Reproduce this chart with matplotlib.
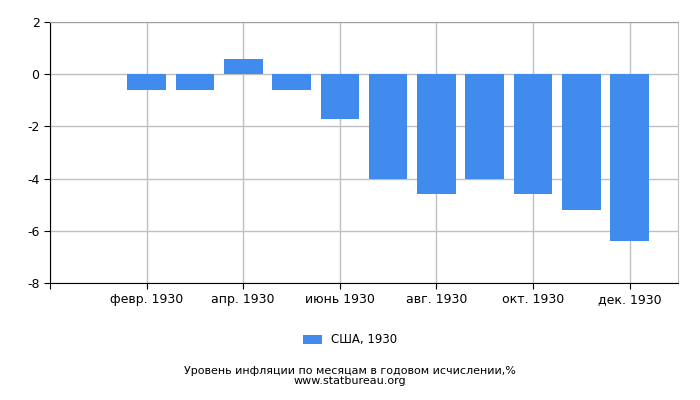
import numpy as np
import matplotlib.pyplot as plt

# Monthly inflation data, USA 1930 (January has no bar)
months = ['янв. 1930', 'февр. 1930', 'март 1930', 'апр. 1930', 'май 1930', 'июнь 1930',
          'июль 1930', 'авг. 1930', 'сент. 1930', 'окт. 1930', 'нояб. 1930', 'дек. 1930']
values = [np.nan, -0.6, -0.6, 0.6, -0.6, -1.7, -4.0, -4.6, -4.0, -4.6, -5.2, -6.4]
y_ticks = [-8, -6, -4, -2, 0, 2]

fig = plt.figure(figsize=(7, 4), dpi=100)
ax = fig.add_axes([50/700, 1 - 283/400, 628/700, 261/400])

x = np.arange(len(months))
ax.bar(x, values, width=0.8, color='#428bee', label='США, 1930', zorder=3)

tick_pos = [-1] + list(x[1::2])
tick_lab = [''] + months[1::2]
ax.set_xticks(tick_pos)
ax.set_xticklabels(tick_lab, fontsize=9)
ax.set_xlim(-1, 12)
ax.set_ylim(-8, 2)
ax.set_yticks(y_ticks)
ax.set_yticklabels([str(v) for v in y_ticks], fontsize=9)

ax.grid(True, color='#c0c0c0', linewidth=1, zorder=0)
ax.tick_params(direction='out', length=4, color='black')
ax.spines['left'].set_color('black')
ax.spines['bottom'].set_color('black')
ax.spines['top'].set_color('#a0a0a0')
ax.spines['right'].set_color('#c0c0c0')

fig.legend(loc='center', bbox_to_anchor=(0.5, 1 - 340/400), frameon=False,
           fontsize=8.5, handlelength=1.6, handleheight=0.7)
fig.text(0.5, 1 - 376/400,
         'Уровень инфляции по месяцам в годовом исчислении,%\nwww.statbureau.org',
         ha='center', va='center', fontsize=8, linespacing=1.0)

fig.savefig('out.png', dpi=100)
